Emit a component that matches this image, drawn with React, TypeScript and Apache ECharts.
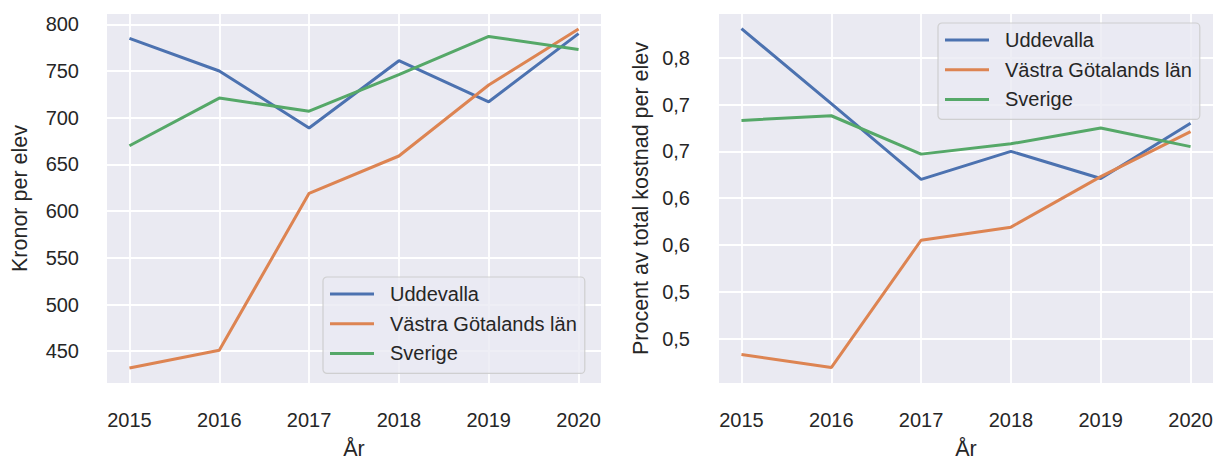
import React, { useEffect, useRef } from "react";
import * as echarts from "echarts";

const years = [2015, 2016, 2017, 2018, 2019, 2020];
const seriesNames = ["Uddevalla", "Västra Götalands län", "Sverige"];

const kronorUddevalla = [785, 750, 689, 761, 717, 790];
const kronorVgr = [432, 451, 619, 659, 735, 795];
const kronorSverige = [670, 721, 707, 746, 787, 773];

const procentUddevalla = [0.781, 0.701, 0.62, 0.65, 0.621, 0.68];
const procentVgr = [0.433, 0.419, 0.555, 0.569, 0.623, 0.671];
const procentSverige = [0.683, 0.688, 0.647, 0.658, 0.675, 0.655];

const kronorTicks = [450, 500, 550, 600, 650, 700, 750, 800];
const procentTicks = [0.45, 0.5, 0.55, 0.6, 0.65, 0.7, 0.75];
const procentTickLabels = ["0,5", "0,5", "0,6", "0,6", "0,7", "0,7", "0,8"];

const colors = ["#4C72B0", "#DD8452", "#55A868"];
const FONT = "'Liberation Sans', Arial, Helvetica, sans-serif";
const TEXT = "#262626";

export default function App() {
  const ref = useRef<HTMLDivElement>(null);

  useEffect(() => {
    if (!ref.current) return;
    const chart = echarts.init(ref.current, null, { renderer: "svg" });

    const xAxisBase = (gridIndex: number) => ({
      type: "value" as const,
      gridIndex,
      min: 2014.75,
      max: 2020.25,
      axisLine: { show: false },
      axisTick: { show: false, customValues: years },
      axisLabel: {
        customValues: years,
        margin: 27,
        color: TEXT,
        fontFamily: FONT,
        fontSize: 20,
        formatter: (v: number) => String(v),
      },
      splitLine: { show: true, lineStyle: { color: "#ffffff", width: 1.8 } },
      name: "År",
      nameLocation: "middle" as const,
      nameGap: 55,
      nameTextStyle: { color: TEXT, fontFamily: FONT, fontSize: 21.5 },
    });

    const legendBase = (left: number, top: number) => ({
      orient: "vertical" as const,
      left,
      top,
      data: seriesNames,
      icon: "rect",
      itemWidth: 44,
      itemHeight: 3,
      itemGap: 9.7,
      padding: [7, 8, 10, 7],
      backgroundColor: "rgba(234,234,242,0.8)",
      borderColor: "rgba(204,204,204,0.9)",
      borderWidth: 1.2,
      borderRadius: 4,
      textStyle: {
        color: TEXT,
        fontFamily: FONT,
        fontSize: 20,
        lineHeight: 20,
        padding: [0, 0, 0, 11],
      },
    });

    const lineSeries = (name: string, data: number[], idx: number, color: string) => ({
      type: "line" as const,
      name,
      xAxisIndex: idx,
      yAxisIndex: idx,
      data: years.map((y, i) => [y, data[i]]),
      showSymbol: false,
      symbol: "none",
      lineStyle: { color, width: 3 },
      itemStyle: { color },
      z: 3,
    });

    chart.setOption({
      animation: false,
      backgroundColor: "#ffffff",
      textStyle: { fontFamily: FONT },
      grid: [
        { left: 107, top: 14, width: 494, height: 369, show: true, backgroundColor: "#EAEAF2", borderWidth: 0, outerBoundsMode: "none", containLabel: false },
        { left: 719, top: 14, width: 494, height: 369, show: true, backgroundColor: "#EAEAF2", borderWidth: 0, outerBoundsMode: "none", containLabel: false },
      ],
      xAxis: [xAxisBase(0), xAxisBase(1)],
      yAxis: [
        {
          type: "value",
          gridIndex: 0,
          min: 416,
          max: 811,
          axisLine: { show: false },
          axisTick: { show: false, customValues: kronorTicks },
          axisLabel: {
            customValues: kronorTicks,
            margin: 28,
            color: TEXT,
            fontFamily: FONT,
            fontSize: 20,
            formatter: (v: number) => String(v),
          },
          splitLine: { show: true, lineStyle: { color: "#ffffff", width: 1.8 } },
          name: "Kronor per elev",
          nameLocation: "middle",
          nameGap: 76,
          nameTextStyle: { color: TEXT, fontFamily: FONT, fontSize: 21.5 },
        },
        {
          type: "value",
          gridIndex: 1,
          min: 0.4025,
          max: 0.7967,
          axisLine: { show: false },
          axisTick: { show: false, customValues: procentTicks },
          axisLabel: {
            customValues: procentTicks,
            margin: 29,
            color: TEXT,
            fontFamily: FONT,
            fontSize: 20,
            formatter: (v: number) => {
              let best = 0;
              procentTicks.forEach((t, i) => {
                if (Math.abs(t - v) < Math.abs(procentTicks[best] - v)) best = i;
              });
              return procentTickLabels[best];
            },
          },
          splitLine: { show: true, lineStyle: { color: "#ffffff", width: 1.8 } },
          name: "Procent av total kostnad per elev",
          nameLocation: "middle",
          nameGap: 67,
          nameTextStyle: { color: TEXT, fontFamily: FONT, fontSize: 21.5 },
        },
      ],
      legend: [legendBase(323, 277), legendBase(938, 23)],
      series: [
        lineSeries(seriesNames[0], kronorUddevalla, 0, colors[0]),
        lineSeries(seriesNames[1], kronorVgr, 0, colors[1]),
        lineSeries(seriesNames[2], kronorSverige, 0, colors[2]),
        lineSeries(seriesNames[0], procentUddevalla, 1, colors[0]),
        lineSeries(seriesNames[1], procentVgr, 1, colors[1]),
        lineSeries(seriesNames[2], procentSverige, 1, colors[2]),
      ],
    });

    return () => chart.dispose();
  }, []);

  return (
    <div
      ref={ref}
      style={{ position: "absolute", left: 0, top: 0, width: 1215, height: 461 }}
    />
  );
}
